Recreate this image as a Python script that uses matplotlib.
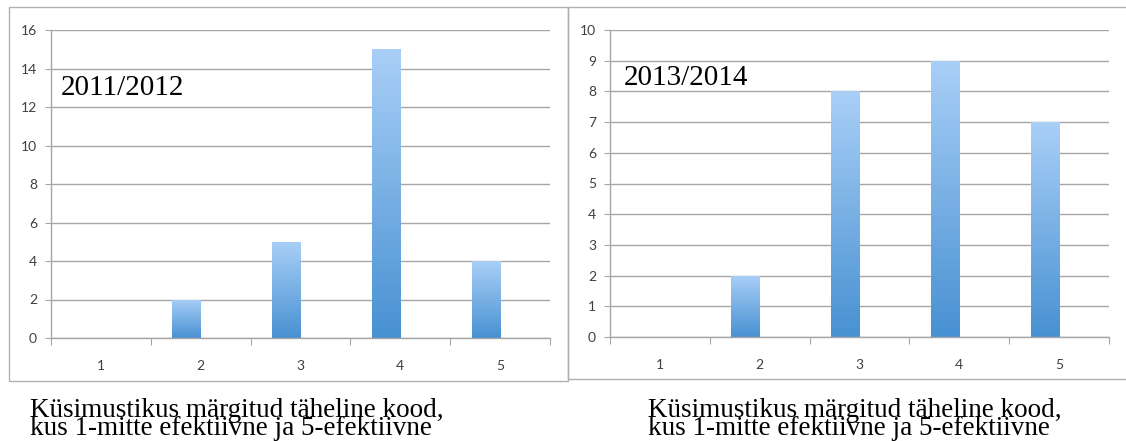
import numpy as np
import matplotlib
matplotlib.use("Agg")
import matplotlib.pyplot as plt
from matplotlib.patches import Rectangle
from matplotlib.colors import LinearSegmentedColormap

categories = [1, 2, 3, 4, 5]
values_2011 = [0, 2, 5, 15, 4]
values_2013 = [0, 2, 8, 9, 7]
titles = ["2011/2012", "2013/2014"]
caption = "Küsimustikus märgitud täheline kood,\nkus 1-mitte efektiivne ja 5-efektiivne"

W, H = 1126, 441
fig = plt.figure(figsize=(W / 100, H / 100), dpi=100)
fig.patch.set_facecolor("white")

grad = LinearSegmentedColormap.from_list("g", ["#4891d2", "#a9cff7"])
gridc = "#a6a6a6"
tickc = "#404040"


def px(x0, y0, x1, y1):
    # pixel box -> figure fraction [left, bottom, width, height]
    return [x0 / W, 1 - y1 / H, (x1 - x0) / W, (y1 - y0) / H]


def panel(rect, vals, ymax, ystep, title, tx, ty):
    ax = fig.add_axes(rect)
    ax.set_xlim(0.5, 5.5)
    ax.set_ylim(0, ymax)
    ax.set_yticks(np.arange(0, ymax + 0.1, ystep))
    ax.yaxis.grid(True, color=gridc, linewidth=1)
    ax.set_axisbelow(True)
    for s in ["top", "right"]:
        ax.spines[s].set_visible(False)
    for s in ["left", "bottom"]:
        ax.spines[s].set_color(gridc)
        ax.spines[s].set_linewidth(1)
    ax.set_xticks(np.arange(0.5, 5.6, 1))
    ax.set_xticklabels([])
    ax.set_xticks(categories, minor=True)
    ax.set_xticklabels([str(c) for c in categories], minor=True)
    ax.tick_params(axis="x", which="major", length=5, color=gridc, direction="out")
    ax.tick_params(axis="x", which="minor", length=0, pad=16, labelsize=10, labelcolor=tickc)
    ax.tick_params(axis="y", length=4, color=gridc, pad=6, labelsize=10, labelcolor=tickc)
    for lab in ax.get_xticklabels(minor=True) + ax.get_yticklabels():
        lab.set_family("Lato")

    bw = 0.286
    bars = ax.bar(np.array(categories) - bw, vals, width=bw, align="edge", color="none")
    g = np.linspace(0, 1, 256).reshape(-1, 1)
    for b in bars:
        if b.get_height() <= 0:
            continue
        x0, y0 = b.get_x(), b.get_y()
        im = ax.imshow(g, cmap=grad, origin="lower", aspect="auto",
                       extent=[x0, x0 + b.get_width(), y0, y0 + b.get_height()], zorder=2)
        im.set_clip_path(b)
    ax.set_xlim(0.5, 5.5)
    ax.set_ylim(0, ymax)

    fig.text(tx / W, 1 - ty / H, title, family="Liberation Serif", fontsize=21,
             va="center", ha="left")
    return ax


panel(px(51, 30, 550, 338), values_2011, 16, 2, titles[0], 61, 88)
panel(px(610, 30, 1109, 337), values_2013, 10, 1, titles[1], 624, 78)

# outer frames
fig.add_artist(Rectangle((9 / W, 1 - 381 / H), (568 - 9) / W, (381 - 7) / H,
                         transform=fig.transFigure, fill=False, edgecolor="#b0b0b0", linewidth=1))
fig.add_artist(Rectangle((568 / W, 1 - 379 / H), (1130 - 568) / W, (379 - 7) / H,
                         transform=fig.transFigure, fill=False, edgecolor="#b0b0b0", linewidth=1))

for x in [30, 648]:
    fig.text(x / W, 1 - 398 / H, caption, family="Liberation Serif", fontsize=19.5,
             va="top", ha="left", linespacing=0.62)

fig.savefig("out.png", dpi=100)
